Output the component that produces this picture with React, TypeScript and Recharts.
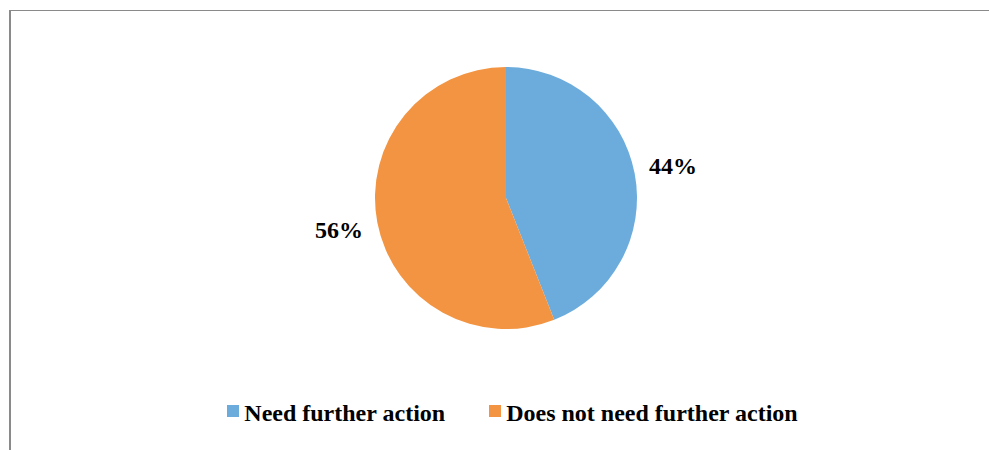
import React from "react";
import { PieChart, Pie, Cell, Legend } from "recharts";

const categories = ["Need further action", "Does not need further action"];
const shares = [44, 56];
const colors = ["#6CACDD", "#F29441"];

const data = categories.map((name, i) => ({ name, value: shares[i] }));

const RADIAN = Math.PI / 180;
const FONT = '"Liberation Serif", "Times New Roman", serif';

const renderLabel = (props: any) => {
  const { cx, cy, midAngle, outerRadius, percent } = props;
  const r = outerRadius + 39;
  const x = cx + r * Math.cos(-midAngle * RADIAN);
  const y = cy + r * Math.sin(-midAngle * RADIAN);
  return (
    <text
      x={x}
      y={y}
      fill="#000"
      textAnchor="middle"
      dominantBaseline="central"
      fontFamily={FONT}
      fontWeight="bold"
      fontSize={24}
    >
      {`${Math.round(percent * 100)}%`}
    </text>
  );
};

// legend drawn in category order, like the original
const LegendContent = () => (
  <div style={{ display: "flex", justifyContent: "center", fontFamily: FONT, fontWeight: "bold", fontSize: 24, color: "#000" }}>
    {categories.map((name, i) => (
      <div key={name} style={{ display: "flex", alignItems: "flex-start", marginRight: i === 0 ? 44 : 0 }}>
        <span style={{ display: "inline-block", width: 12, height: 12, background: colors[i], marginTop: 5, marginRight: 5 }} />
        <span>{name}</span>
      </div>
    ))}
  </div>
);

export default function App() {
  return (
    <div style={{ position: "absolute", left: 0, top: 0, width: 989, height: 450, background: "#fff" }}>
      <div
        style={{
          position: "absolute",
          left: 9,
          top: 10,
          width: 978,
          height: 440,
          borderTop: "1px solid #8a8a8a",
          borderLeft: "2px solid #8a8a8a",
        }}
      />
      <PieChart width={989} height={450} margin={{ top: 0, right: 0, bottom: 0, left: 0 }}>
        <Pie
          data={data}
          dataKey="value"
          nameKey="name"
          cx={506}
          cy={198}
          outerRadius={131}
          startAngle={90}
          endAngle={-270}
          stroke="none"
          label={renderLabel}
          labelLine={false}
          isAnimationActive={false}
        >
          {data.map((d, i) => (
            <Cell key={d.name} fill={colors[i]} />
          ))}
        </Pie>
        <Legend
          content={<LegendContent />}
          wrapperStyle={{ position: "absolute", top: 400, left: 18, width: 989 }}
        />
      </PieChart>
    </div>
  );
}
